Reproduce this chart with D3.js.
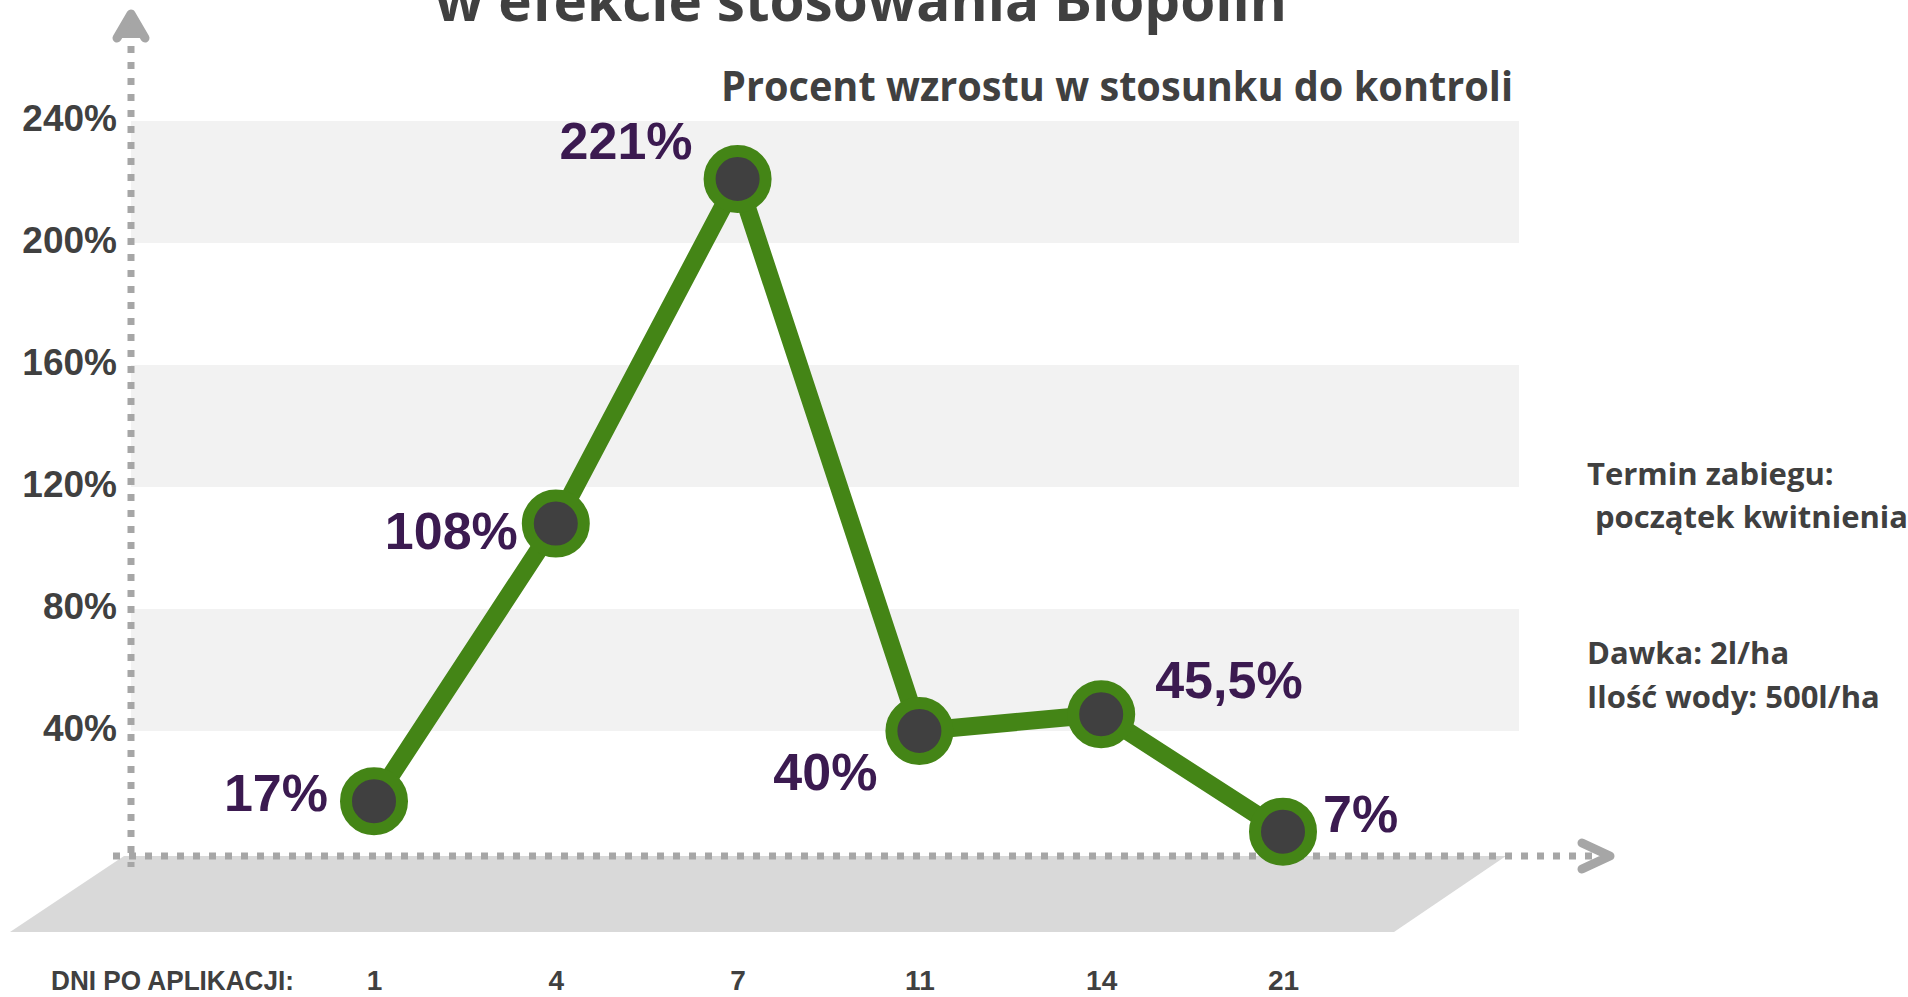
<!DOCTYPE html>
<html>
<head>
<meta charset="utf-8">
<script src="https://cdn.jsdelivr.net/npm/d3@7/dist/d3.min.js"></script>
<style>
  html, body { margin: 0; padding: 0; background: #ffffff; }
  svg { display: block; }
</style>
</head>
<body>
<script>
// ---------------- data ----------------
const days = ["1", "4", "7", "11", "14", "21"];
const growth = [17, 108, 221, 40, 45.5, 7];
const growthLabels = ["17%", "108%", "221%", "40%", "45,5%", "7%"];
const yTicks = [40, 80, 120, 160, 200, 240];
const bandRanges = [[200, 240], [120, 160], [40, 80]];
const titleText = "w efekcie stosowania Biopolin";
const subtitleText = "Procent wzrostu w stosunku do kontroli";
const xAxisTitle = "DNI PO APLIKACJI:";
const infoLines = ["Termin zabiegu:", "początek kwitnienia", "Dawka: 2l/ha", "Ilość wody: 500l/ha"];

// ---------------- layout ----------------
const W = 1908, H = 997;
const dark = "#404040", axisGray = "#a6a6a6", bandGray = "#f2f2f2", floorGray = "#d9d9d9";
const green = "#448516", purple = "#3b1a50";
const numFont = "'Liberation Sans', Arial, sans-serif";
const textFont = "'Open Sans', 'Noto Sans', sans-serif";

const svg = d3.select("body").append("svg").attr("width", W).attr("height", H);

const y = d3.scaleLinear().domain([0, 240]).range([853, 121]);
const x = d3.scalePoint().domain(days).range([374, 1283]);
const axisX = 131, axisY = 856;
const bandLeft = 131, bandRight = 1519;

// bands
svg.append("g").selectAll("rect").data(bandRanges).join("rect")
  .attr("x", bandLeft).attr("width", bandRight - bandLeft)
  .attr("y", d => y(d[1])).attr("height", d => y(d[0]) - y(d[1]))
  .attr("fill", bandGray);

// floor parallelogram
svg.append("path")
  .attr("d", `M124,${axisY} L1506,${axisY} L1394,932 L10,932 Z`)
  .attr("fill", floorGray);

// dotted axes
svg.append("line").attr("x1", axisX).attr("x2", axisX).attr("y1", 46).attr("y2", 867)
  .attr("stroke", axisGray).attr("stroke-width", 7).attr("stroke-dasharray", "7 9");
svg.append("line").attr("x1", 113).attr("x2", 1600).attr("y1", axisY).attr("y2", axisY)
  .attr("stroke", axisGray).attr("stroke-width", 7).attr("stroke-dasharray", "7 9");

// arrow heads
svg.append("path").attr("d", `M${axisX - 14},38 L${axisX},14 L${axisX + 14},38`)
  .attr("fill", axisGray).attr("stroke", axisGray).attr("stroke-width", 9)
  .attr("stroke-linejoin", "round").attr("stroke-linecap", "round");
svg.append("path").attr("d", `M1582,843 L1610,${axisY} L1582,869`)
  .attr("fill", "none").attr("stroke", axisGray).attr("stroke-width", 9)
  .attr("stroke-linejoin", "round").attr("stroke-linecap", "round");

// y axis labels
const yAxis = d3.axisLeft(y).tickValues(yTicks).tickFormat(d => d + "%").tickSize(0).tickPadding(0);
const gy = svg.append("g").attr("transform", "translate(117,0)").call(yAxis);
gy.select(".domain").remove();
gy.selectAll("text")
  .attr("font-family", numFont).attr("font-weight", "bold").attr("font-size", 37)
  .attr("fill", dark).attr("dy", "0.25em");

// x axis labels
const xAxis = d3.axisBottom(x).tickSize(0).tickPadding(0);
const gx = svg.append("g").attr("transform", "translate(0,990)").call(xAxis);
gx.select(".domain").remove();
gx.selectAll("text")
  .attr("font-family", numFont).attr("font-weight", "bold").attr("font-size", 28)
  .attr("fill", dark).attr("dy", 0);

svg.append("text").attr("x", 51).attr("y", 990)
  .attr("font-family", numFont).attr("font-weight", "bold").attr("font-size", 28)
  .attr("fill", dark).attr("textLength", 243).attr("lengthAdjust", "spacingAndGlyphs")
  .text(xAxisTitle);

// line
const pts = days.map((d, i) => ({ day: d, v: growth[i], label: growthLabels[i] }));
svg.append("path").datum(pts)
  .attr("d", d3.line().x(d => x(d.day)).y(d => y(d.v)))
  .attr("fill", "none").attr("stroke", green).attr("stroke-width", 18)
  .attr("stroke-linejoin", "round");

// markers
svg.append("g").selectAll("circle").data(pts).join("circle")
  .attr("cx", d => x(d.day)).attr("cy", d => y(d.v)).attr("r", 28)
  .attr("fill", dark).attr("stroke", green).attr("stroke-width", 12);

// value labels
const labelLayout = [
  { anchor: "end", dx: -46, dy: 10 },
  { anchor: "end", dx: -38, dy: 25 },
  { anchor: "end", dx: -45, dy: -20 },
  { anchor: "end", dx: -42, dy: 59 },
  { anchor: "start", dx: 54, dy: -16 },
  { anchor: "start", dx: 40, dy: 0 }
];
svg.append("g").selectAll("text").data(pts).join("text")
  .attr("x", (d, i) => x(d.day) + labelLayout[i].dx)
  .attr("y", (d, i) => y(d.v) + labelLayout[i].dy)
  .attr("text-anchor", (d, i) => labelLayout[i].anchor)
  .attr("font-family", numFont).attr("font-weight", "bold").attr("font-size", 52)
  .attr("fill", purple)
  .text(d => d.label);

// title & subtitle
svg.append("text").attr("x", 861).attr("y", 21).attr("text-anchor", "middle")
  .attr("font-family", textFont).attr("font-weight", "bold").attr("font-size", 57)
  .attr("fill", dark).attr("textLength", 852).attr("lengthAdjust", "spacingAndGlyphs")
  .text(titleText);
svg.append("text").attr("x", 1513).attr("y", 101).attr("text-anchor", "end")
  .attr("font-family", textFont).attr("font-weight", "bold").attr("font-size", 41)
  .attr("fill", dark).attr("textLength", 792).attr("lengthAdjust", "spacingAndGlyphs")
  .text(subtitleText);

// info text
const infoPos = [[1587, 485], [1595, 528], [1587, 664], [1587, 708]];
svg.append("g").selectAll("text").data(infoLines).join("text")
  .attr("x", (d, i) => infoPos[i][0]).attr("y", (d, i) => infoPos[i][1])
  .attr("font-family", textFont).attr("font-weight", "bold").attr("font-size", 31)
  .attr("fill", dark)
  .text(d => d);
</script>
</body>
</html>
